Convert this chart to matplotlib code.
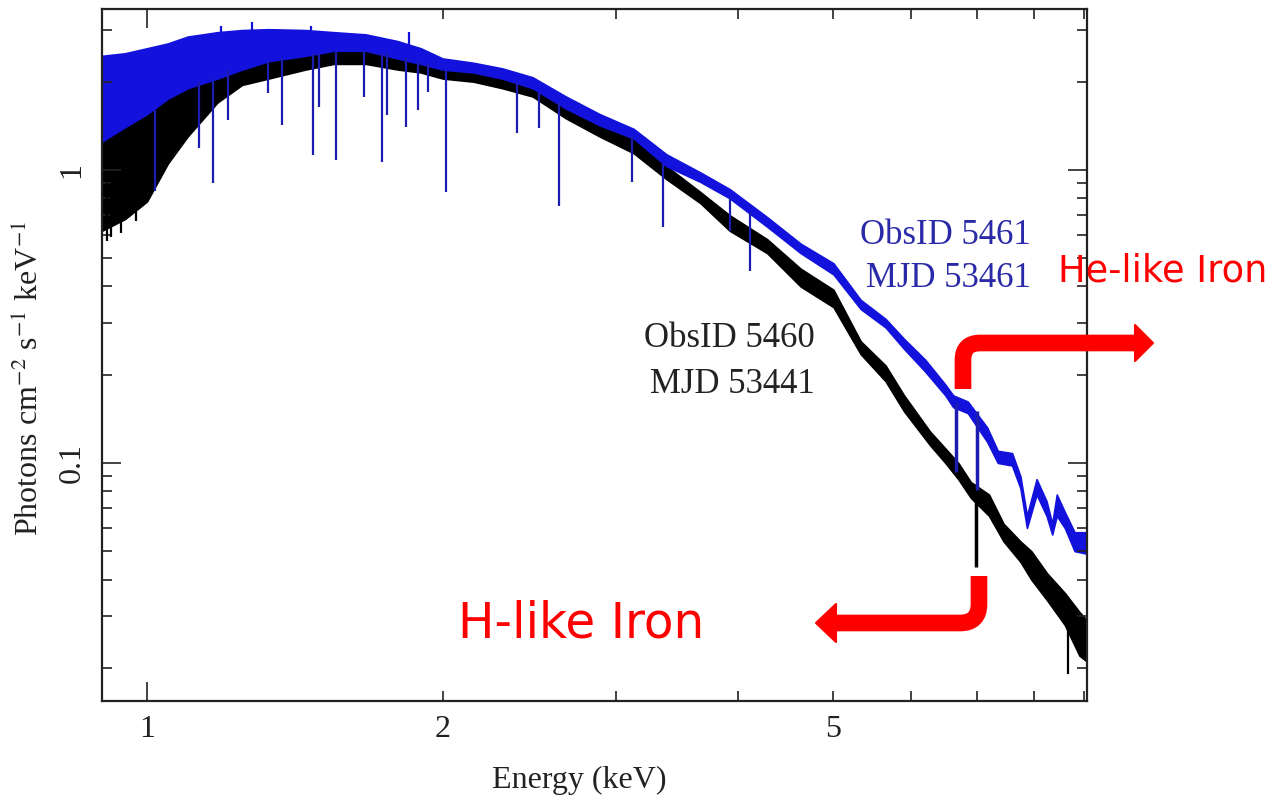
import numpy as np
import matplotlib
matplotlib.use("Agg")
import matplotlib.pyplot as plt
from matplotlib.path import Path
from matplotlib.patches import PathPatch, Polygon
from matplotlib.transforms import Affine2D

plt.rcParams['font.family'] = 'Liberation Serif'
plt.rcParams['mathtext.fontset'] = 'stix'

#%% spectra (band = noise envelope)
e_5460 = [0.90, 0.95, 1.00, 1.05, 1.10, 1.18, 1.25, 1.33, 1.45, 1.55, 1.67, 1.80, 1.90, 2.00,
          2.15, 2.30, 2.47, 2.67, 2.89, 3.13, 3.38, 3.66, 3.92, 4.28, 4.63, 5.00, 5.33, 5.65,
          5.90, 6.27, 6.50, 6.70, 6.90, 7.20, 7.45, 7.75, 7.95, 8.25, 8.60, 8.90, 9.06]
lo_5460 = [0.62, 0.68, 0.78, 1.05, 1.30, 1.70, 1.95, 2.05, 2.20, 2.30, 2.30, 2.20, 2.15, 2.05,
           2.00, 1.90, 1.78, 1.50, 1.30, 1.14, 0.93, 0.77, 0.62, 0.52, 0.40, 0.34, 0.235, 0.19,
           0.15, 0.115, 0.100, 0.088, 0.076, 0.066, 0.054, 0.046, 0.040, 0.034, 0.028, 0.022,
           0.021]
hi_5460 = [1.60, 1.60, 1.75, 1.90, 2.10, 2.35, 2.50, 2.55, 2.62, 2.68, 2.65, 2.50, 2.42, 2.30,
           2.22, 2.10, 1.97, 1.65, 1.45, 1.27, 1.03, 0.84, 0.70, 0.58, 0.46, 0.39, 0.26, 0.215,
           0.17, 0.128, 0.112, 0.100, 0.086, 0.078, 0.062, 0.054, 0.050, 0.042, 0.036, 0.031,
           0.029]

e_5461 = [0.90, 0.95, 1.00, 1.05, 1.10, 1.18, 1.25, 1.33, 1.45, 1.55, 1.67, 1.80, 1.90, 2.00,
          2.15, 2.30, 2.47, 2.67, 2.89, 3.13, 3.38, 3.66, 3.92, 4.28, 4.63, 5.00, 5.33, 5.65,
          5.90, 6.20, 6.50, 6.62, 6.85, 7.17, 7.35, 7.60, 7.75, 7.87, 8.05, 8.24, 8.35, 8.44,
          8.60, 8.80, 9.06]
lo_5461 = [1.25, 1.40, 1.55, 1.75, 1.90, 2.05, 2.20, 2.35, 2.45, 2.55, 2.55, 2.40, 2.30, 2.20,
           2.15, 2.05, 1.90, 1.62, 1.42, 1.28, 1.03, 0.91, 0.80, 0.64, 0.52, 0.44, 0.335, 0.29,
           0.245, 0.205, 0.170, 0.155, 0.148, 0.118, 0.100, 0.098, 0.082, 0.060, 0.078, 0.066,
           0.057, 0.066, 0.060, 0.050, 0.049]
hi_5461 = [2.45, 2.50, 2.60, 2.70, 2.85, 2.95, 3.00, 3.02, 3.00, 2.95, 2.90, 2.75, 2.60, 2.40,
           2.32, 2.22, 2.07, 1.78, 1.55, 1.38, 1.13, 0.98, 0.86, 0.69, 0.56, 0.48, 0.36, 0.31,
           0.265, 0.225, 0.185, 0.170, 0.162, 0.132, 0.110, 0.108, 0.090, 0.066, 0.088, 0.074,
           0.062, 0.078, 0.068, 0.058, 0.058]

# narrow absorption features: energy, top, bottom
line_e_5461 = [1.02, 1.13, 1.167, 1.21, 1.328, 1.372, 1.476, 1.497, 1.557, 1.663, 1.734,
               1.755, 1.835, 1.887, 1.932, 2.016, 2.38, 2.51, 2.63, 3.12, 3.35, 3.92, 4.11]
line_top_5461 = [1.60, 2.00, 2.05, 2.20, 2.35, 2.40, 2.50, 2.50, 2.55, 2.55, 2.50,
                 2.50, 2.40, 2.35, 2.30, 2.20, 2.00, 1.85, 1.70, 1.30, 1.05, 0.80, 0.72]
line_bot_5461 = [0.85, 1.19, 0.90, 1.48, 1.83, 1.42, 1.12, 1.64, 1.08, 1.77, 1.06,
                 1.54, 1.40, 1.60, 1.85, 0.84, 1.34, 1.39, 0.75, 0.91, 0.64, 0.62, 0.45]
spike_e_5461 = [1.19, 1.28, 1.47, 1.85]
spike_lo_5461 = [2.60, 2.70, 2.80, 2.50]
spike_hi_5461 = [3.10, 3.20, 3.10, 2.96]
fe_e_5461 = [6.67, 7.00]
fe_top_5461 = [0.160, 0.150]
fe_bot_5461 = [0.093, 0.081]

line_e_5460 = [0.91, 0.92, 0.94, 0.975, 1.012, 1.08, 8.66]
line_top_5460 = [0.90, 0.90, 0.95, 1.10, 1.30, 1.60, 0.030]
line_bot_5460 = [0.57, 0.59, 0.61, 0.67, 0.98, 1.22, 0.019]
fe_e_5460 = [6.99]
fe_top_5460 = [0.085]
fe_bot_5460 = [0.044]

x_major = [1]
x_minor = [2, 3, 4, 5, 6, 7, 8, 9]
x_minor_labels = ['2', '', '', '5', '', '', '', '']
y_major = [0.1, 1]
y_major_labels = ['0.1', '1']
y_minor = [0.02, 0.03, 0.04, 0.05, 0.06, 0.07, 0.08, 0.09,
           0.2, 0.3, 0.4, 0.5, 0.6, 0.7, 0.8, 0.9, 2, 3]

black = '#000000'
blue = '#1212dc'
blue_line = '#1c1cb0'
red = '#ff0000'

#%% plot
W, H = 1276, 798
fig = plt.figure(figsize=(W / 100, H / 100), dpi=100)
ax = fig.add_axes([102 / W, 1 - 701 / H, 985 / W, 692 / H])
ax.set_xscale('log')
ax.set_yscale('log')

ax.fill_between(e_5460, lo_5460, hi_5460, color=black, lw=1.2)
ax.vlines(line_e_5460, line_bot_5460, line_top_5460, color=black, lw=1.6)
ax.vlines(fe_e_5460, fe_bot_5460, fe_top_5460, color=black, lw=2.5)
ax.fill_between(e_5461, lo_5461, hi_5461, color=blue, lw=1.2)
ax.vlines(line_e_5461, line_bot_5461, line_top_5461, color=blue_line, lw=1.6)
ax.vlines(spike_e_5461, spike_lo_5461, spike_hi_5461, color=blue, lw=1.6)
ax.vlines(fe_e_5461, fe_bot_5461, fe_top_5461, color=blue_line, lw=2.5)

ax.set_xlim(0.9, 9.06)
ax.set_ylim(0.0154, 3.54)

ax.set_xticks(x_major, labels=['1'])
ax.set_xticks(x_minor, labels=x_minor_labels, minor=True)
ax.set_yticks(y_major, labels=y_major_labels)
ax.set_yticks(y_minor, labels=[''] * len(y_minor), minor=True)
ax.tick_params(which='both', direction='in', top=True, right=True, width=1.2,
               labelsize=23, colors='#222222')
ax.tick_params(which='major', length=14)
ax.tick_params(which='minor', length=7)
ax.tick_params(axis='x', which='both', pad=10)
ax.tick_params(axis='y', which='both', pad=11, labelrotation=90)
for lbl in ax.get_yticklabels():
    lbl.set_va('center')
for sp in ax.spines.values():
    sp.set_linewidth(1.6)
    sp.set_color('#222222')

ax.set_xlabel('Energy (keV)', fontsize=23, color='#222222')
ax.xaxis.set_label_coords(0.485, -0.094)
ax.set_ylabel(r'Photons cm$^{-2}$ s$^{-1}$ keV$^{-1}$', fontsize=23, color='#222222')
ax.yaxis.set_label_coords(-0.058, 0.467)

#%% labels
fig.text(1031 / W, 1 - 244 / H, 'ObsID 5461', color='#2a2aa8', fontsize=25, ha='right', va='baseline')
fig.text(1031 / W, 1 - 287 / H, 'MJD 53461', color='#2a2aa8', fontsize=25, ha='right', va='baseline')
fig.text(815 / W, 1 - 347 / H, 'ObsID 5460', color='#222222', fontsize=25, ha='right', va='baseline')
fig.text(815 / W, 1 - 393 / H, 'MJD 53441', color='#222222', fontsize=25, ha='right', va='baseline')

fig.text(1058 / W, 1 - 282 / H, 'He-like Iron', color=red, fontsize=26.5,
         family='DejaVu Sans', va='baseline')
fig.text(458 / W, 1 - 637 / H, 'H-like Iron', color=red, fontsize=35,
         family='DejaVu Sans', va='baseline')

#%% bent arrows (pixel coords, y down)
px = Affine2D().scale(1, -1).translate(0, H).scale(1 / W, 1 / H) + fig.transFigure
codes = [Path.MOVETO, Path.LINETO, Path.CURVE3, Path.CURVE3, Path.LINETO]
up = Path([(963, 389), (963, 360), (963, 343), (980, 343), (1137, 343)], codes)
down = Path([(979, 576), (979, 604), (979, 623), (960, 623), (834, 623)], codes)
for p in (up, down):
    fig.add_artist(PathPatch(p, transform=px, fill=False, ec=red, lw=12,
                             capstyle='butt', joinstyle='round'))
fig.add_artist(Polygon([(1135, 325), (1153, 343), (1135, 361)], closed=True,
                       transform=px, fc=red, ec=red, lw=1.5, joinstyle='round'))
fig.add_artist(Polygon([(836, 604), (816, 623), (836, 642)], closed=True,
                       transform=px, fc=red, ec=red, lw=1.5, joinstyle='round'))

fig.savefig('out.png', dpi=100)
